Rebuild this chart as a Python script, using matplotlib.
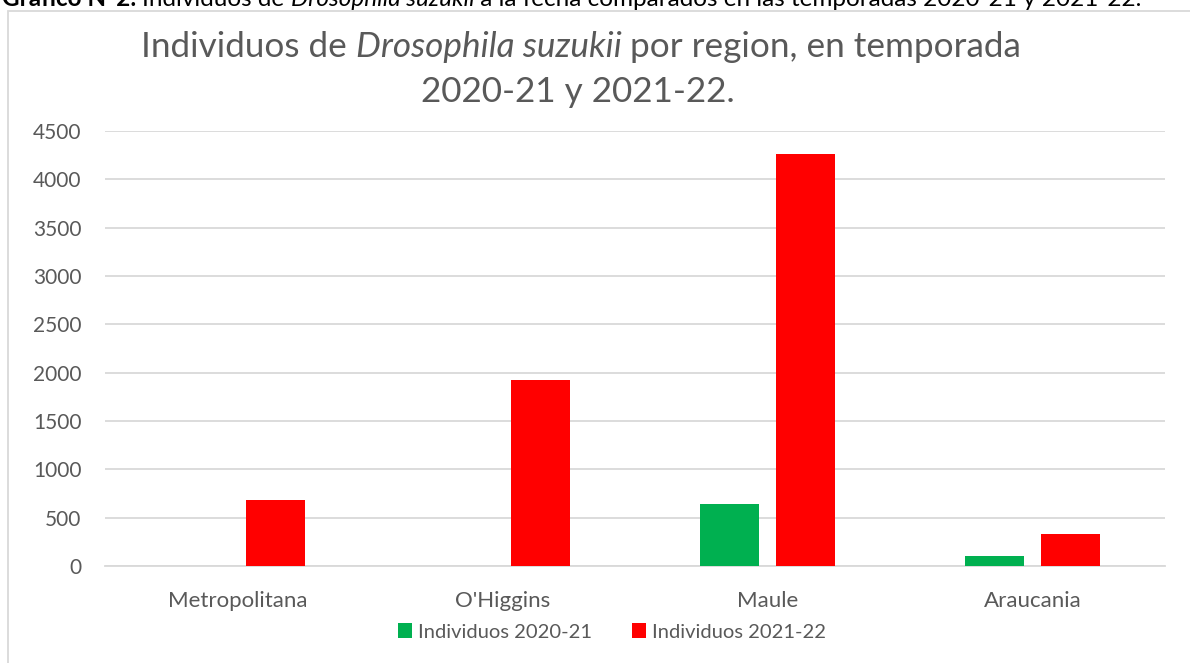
import matplotlib
matplotlib.use("Agg")
import matplotlib.pyplot as plt
import numpy as np
from matplotlib.patches import Patch, Rectangle

# ---- data ----
categories = ["Metropolitana", "O'Higgins", "Maule", "Araucania"]
series_names = ["Individuos 2020-21", "Individuos 2021-22"]
ind_2020_21 = [0, 0, 645, 100]
ind_2021_22 = [680, 1920, 4265, 335]
yticks = [0, 500, 1000, 1500, 2000, 2500, 3000, 3500, 4000, 4500]
colors = ["#00B050", "#FF0000"]

FONT = "Lato"
GRAY = "#595959"
W, H = 1190, 663
plt.rcParams['font.family'] = [FONT, 'DejaVu Sans']

fig = plt.figure(figsize=(W / 100, H / 100), dpi=100)
fig.patch.set_facecolor("white")

def fx(px):
    return px / W

def fy(py):
    return 1 - py / H

ax = fig.add_axes([fx(105), fy(566), fx(1165) - fx(105), fy(131) - fy(566)])
x = np.arange(len(categories))
bw = 0.223
off = 0.1425
ax.bar(x - off, ind_2020_21, bw, color=colors[0], edgecolor="none", zorder=3)
ax.bar(x + off, ind_2021_22, bw, color=colors[1], edgecolor="none", zorder=3)
ax.set_xlim(-0.5, len(categories) - 0.5)
ax.set_ylim(0, 4500)
ax.set_yticks(yticks)
ax.set_yticklabels([str(v) for v in yticks])
ax.set_xticks(x)
ax.set_xticklabels(categories)
ax.grid(axis="y", color="#D9D9D9", linewidth=1.3, zorder=0)
for s in ["top", "right", "left"]:
    ax.spines[s].set_visible(False)
ax.spines["bottom"].set_color("#D9D9D9")
ax.spines["bottom"].set_linewidth(1.3)
ax.tick_params(axis="both", length=0, labelcolor=GRAY)
ax.tick_params(axis="y", pad=17, labelsize=15)
ax.tick_params(axis="x", pad=18, labelsize=16)

# chart border (partially off canvas)
fig.patches.append(Rectangle((fx(8), fy(H + 20)), fx(W + 20) - fx(8), fy(11) - fy(H + 20),
                             transform=fig.transFigure, fill=False, edgecolor="#D9D9D9",
                             linewidth=1.3))

handles = [Patch(facecolor=c, edgecolor="none") for c in colors]
fig.legend(handles, series_names, loc="center", bbox_to_anchor=(fx(612), fy(632)), ncol=2,
           frameon=False, handlelength=0.7, handleheight=0.7, handletextpad=0.3,
           columnspacing=2.0, prop={"family": FONT, "size": 14.5}, labelcolor=GRAY)

fig.canvas.draw()
renderer = fig.canvas.get_renderer()

def rich_line(pieces, y_px, size, color, center_px=None, left_px=None, va="baseline"):
    texts = []
    for s, style, weight in pieces:
        t = fig.text(0, fy(y_px), s, fontsize=size, color=color, style=style,
                     weight=weight, family=FONT, va=va, ha="left")
        texts.append(t)
    widths = [t.get_window_extent(renderer).width for t in texts]
    total = sum(widths)
    start = left_px if left_px is not None else center_px - total / 2
    cur = start
    for t, w in zip(texts, widths):
        t.set_x(fx(cur))
        cur += w
    return total

# title
rich_line([("Individuos de ", "normal", "normal"),
           ("Drosophila suzukii", "italic", "normal"),
           (" por region, en temporada", "normal", "normal")],
          57, 25.3, GRAY, center_px=581)
rich_line([("2020-21 y 2021-22.", "normal", "normal")], 102, 25.3, GRAY, center_px=578)

# caption (cut at top edge, as in the reference)
rich_line([("Gráfico N°2: ", "normal", "bold"),
           ("Individuos de ", "normal", "normal"),
           ("Drosophila suzukii", "italic", "normal"),
           (" a la fecha comparados en las temporadas 2020-21 y 2021-22.", "normal", "normal")],
          6, 17.5, "black", left_px=2)

fig.savefig("out.png", dpi=100, facecolor="white")
